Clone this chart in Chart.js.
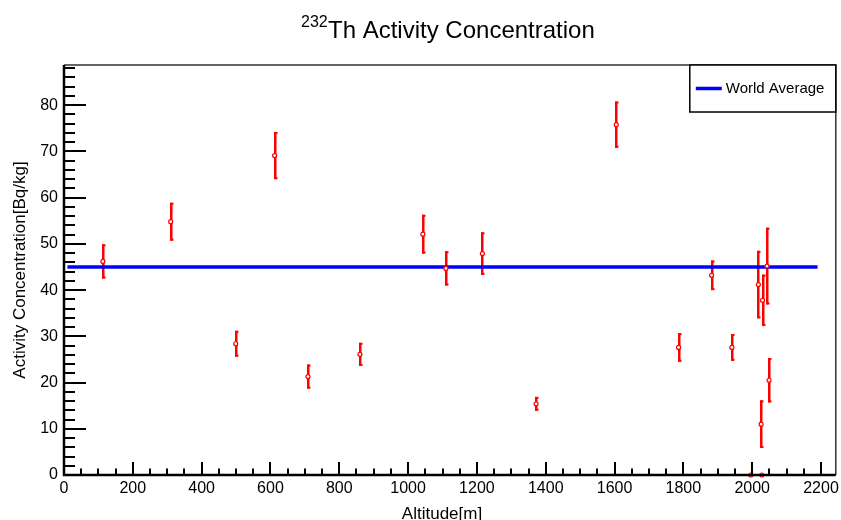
<!DOCTYPE html>
<html lang="en">
<head>
<meta charset="UTF-8">
<title>232Th Activity Concentration</title>
<script src="https://cdn.jsdelivr.net/npm/chart.js"></script>
<style>
    body {
        margin: 0;
        background: #ffffff;
    }
    #chart {
        display: block;
    }
</style>
</head>
<body>
<canvas id="chart" width="841" height="520"></canvas>
<script>
    // measurements: altitude [m], activity [Bq/kg], error [Bq/kg]
    const altitude = [113, 310, 499, 612, 709, 860, 1043, 1110, 1216, 1372, 1605, 1786, 1882, 1941, 1996, 2018, 2026, 2028, 2030, 2043, 2049];
    const activity = [46.2, 54.8, 28.4, 69.1, 21.3, 26.1, 52.1, 44.7, 47.9, 15.4, 75.8, 27.6, 43.2, 27.6, 0, 41.2, 11.0, 0, 37.8, 45.2, 20.5];
    const activityErr = [3.7, 4.1, 2.8, 5.1, 2.6, 2.5, 4.2, 3.7, 4.6, 1.5, 5.0, 3.1, 3.2, 2.9, 0, 7.3, 5.15, 0, 5.55, 8.3, 4.8];

    // world average reference line
    const worldAvgX = [10, 2190];
    const worldAvgY = [45, 45];

    // axes
    const xTickValues = [0, 200, 400, 600, 800, 1000, 1200, 1400, 1600, 1800, 2000, 2200];
    const yTickValues = [0, 10, 20, 30, 40, 50, 60, 70, 80];
    const xRange = [0, 2243];
    const yRange = [0, 88.7];
    const xMinorStep = 50;
    const yMinorStep = 2;

    const FONT = '"Liberation Sans", Arial, Helvetica, sans-serif';

    const rootStyle = {
        id: 'rootStyle',
        beforeDatasetsDraw(chart) {
            // error bars go under the line and markers
            const ctx = chart.ctx;
            const xs = chart.scales.x, ys = chart.scales.y;
            ctx.save();
            ctx.fillStyle = '#ff0000';
            altitude.forEach((a, i) => {
                const e = activityErr[i];
                if (!e) return;
                const px = Math.round(xs.getPixelForValue(a));
                const top = ys.getPixelForValue(activity[i] + e);
                const bot = ys.getPixelForValue(activity[i] - e);
                ctx.fillRect(px - 1, top, 2.5, bot - top);
                ctx.fillRect(px - 1, top, 3.5, 2);
                ctx.fillRect(px - 1, bot - 2, 3.5, 2);
            });
            ctx.restore();
        },
        afterDatasetsDraw(chart) {
            const ctx = chart.ctx;
            const area = chart.chartArea;
            const xs = chart.scales.x, ys = chart.scales.y;
            ctx.save();

            // thin frame top/right
            ctx.strokeStyle = '#333';
            ctx.lineWidth = 1.5;
            ctx.beginPath();
            ctx.moveTo(area.left, area.top);
            ctx.lineTo(area.right, area.top);
            ctx.lineTo(area.right, area.bottom);
            ctx.stroke();

            // ticks pointing inward
            ctx.strokeStyle = '#000';
            ctx.lineWidth = 2;
            ctx.beginPath();
            for (let v = yRange[0]; v <= yRange[1]; v += yMinorStep) {
                const py = Math.round(ys.getPixelForValue(v));
                const len = v % 10 === 0 ? 22 : 11;
                ctx.moveTo(area.left, py);
                ctx.lineTo(area.left + len, py);
            }
            for (let v = xRange[0]; v <= xRange[1]; v += xMinorStep) {
                const px = Math.round(xs.getPixelForValue(v));
                const len = v % 200 === 0 ? 13 : 6.5;
                ctx.moveTo(px, area.bottom);
                ctx.lineTo(px, area.bottom - len);
            }
            ctx.stroke();

            // main axis lines
            ctx.lineWidth = 2.5;
            ctx.beginPath();
            ctx.moveTo(area.left, area.top);
            ctx.lineTo(area.left, area.bottom);
            ctx.lineTo(area.right, area.bottom);
            ctx.stroke();

            // legend box
            const lx = area.right - 146, ly = area.top, lw = 146, lh = 47;
            ctx.fillStyle = '#fff';
            ctx.fillRect(lx, ly, lw, lh);
            ctx.strokeStyle = '#000';
            ctx.lineWidth = 1.5;
            ctx.strokeRect(lx, ly, lw, lh);
            const ds = chart.data.datasets[1];
            ctx.strokeStyle = ds.borderColor;
            ctx.lineWidth = ds.borderWidth;
            ctx.beginPath();
            ctx.moveTo(lx + 6, ly + 23.5);
            ctx.lineTo(lx + 32, ly + 23.5);
            ctx.stroke();
            ctx.fillStyle = '#000';
            ctx.font = '15px ' + FONT;
            ctx.textBaseline = 'alphabetic';
            ctx.fillText(ds.label, lx + 36, ly + 27.5);

            ctx.restore();
        },
        afterDraw(chart) {
            const ctx = chart.ctx;
            const area = chart.chartArea;
            ctx.save();
            ctx.fillStyle = '#000';
            ctx.textBaseline = 'alphabetic';

            // title with superscript mass number
            ctx.font = '16px ' + FONT;
            ctx.fillText('232', 301, 27.3);
            ctx.font = '24px ' + FONT;
            ctx.fillText('Th Activity Concentration', 328, 38.3);

            // axis titles
            ctx.font = '17px ' + FONT;
            ctx.textAlign = 'center';
            ctx.fillText('Altitude[m]', 442, 519);
            ctx.translate(25, (area.top + area.bottom) / 2);
            ctx.rotate(-Math.PI / 2);
            ctx.fillText('Activity Concentration[Bq/kg]', 0, 0);
            ctx.restore();
        }
    };

    new Chart(document.getElementById('chart'), {
        type: 'scatter',
        data: {
            datasets: [{
                label: 'Data',
                data: altitude.map((a, i) => ({ x: a, y: activity[i] })),
                pointRadius: 2,
                pointBorderWidth: 1.2,
                pointBorderColor: '#ff0000',
                pointBackgroundColor: '#ffffff',
                clip: false,
                order: 0
            }, {
                label: 'World Average',
                data: worldAvgX.map((x, i) => ({ x: x, y: worldAvgY[i] })),
                showLine: true,
                borderColor: '#0000ff',
                borderWidth: 3.5,
                pointRadius: 0,
                order: 1
            }]
        },
        options: {
            responsive: false,
            animation: false,
            devicePixelRatio: 1,
            layout: { padding: { top: 65, right: 4, left: 0, bottom: 0 } },
            plugins: {
                legend: { display: false },
                tooltip: { enabled: false }
            },
            scales: {
                x: {
                    type: 'linear',
                    min: xRange[0],
                    max: xRange[1],
                    grid: { display: false, drawTicks: false },
                    border: { display: false },
                    ticks: {
                        padding: 4,
                        color: '#000',
                        maxRotation: 0,
                        autoSkip: false,
                        includeBounds: false,
                        font: { family: FONT, size: 16 },
                        callback: v => String(v)
                    },
                    afterBuildTicks: s => { s.ticks = xTickValues.map(v => ({ value: v })); },
                    afterFit: s => { s.height = 45; s.paddingLeft = 0; s.paddingRight = 0; }
                },
                y: {
                    min: yRange[0],
                    max: yRange[1],
                    grid: { display: false, drawTicks: false },
                    border: { display: false },
                    ticks: {
                        padding: 6,
                        color: '#000',
                        autoSkip: false,
                        includeBounds: false,
                        font: { family: FONT, size: 16 },
                        callback: v => String(v)
                    },
                    afterBuildTicks: s => { s.ticks = yTickValues.map(v => ({ value: v })); },
                    afterFit: s => { s.width = 64; s.paddingTop = 0; s.paddingBottom = 0; }
                }
            }
        },
        plugins: [rootStyle]
    });
</script>
</body>
</html>
